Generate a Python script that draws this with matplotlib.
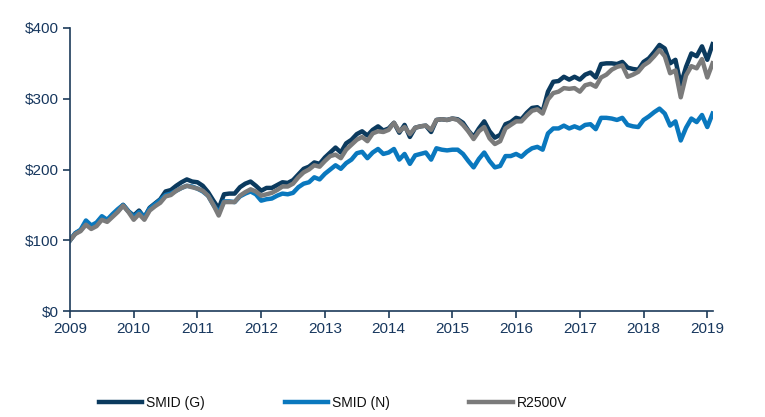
import numpy as np
import matplotlib
matplotlib.use('Agg')
import matplotlib.pyplot as plt
from matplotlib.ticker import FuncFormatter

plt.rcParams['font.family'] = ['Liberation Sans', 'DejaVu Sans']

# monthly growth of $100, Jan 2009 .. Feb 2019
smid_g = [100, 110, 114, 125, 119, 124, 132, 128, 135, 141, 150, 141,
          135, 142, 132, 146, 152, 158, 169, 171, 177, 182, 186, 183,
          182, 177, 168, 156, 145, 165, 166, 166, 175, 180, 183, 177,
          170, 174, 174, 178, 182, 181, 185, 193, 201, 204, 210, 208,
          217, 224, 231, 224, 237, 242, 250, 254, 248, 256, 261, 255,
          258, 266, 252, 263, 246, 259, 261, 262, 253, 270, 271, 270,
          272, 271, 266, 255, 246, 258, 268, 254, 245, 249, 264, 267,
          273, 271, 280, 287, 288, 282, 310, 324, 325, 331, 327, 331,
          327, 334, 337, 330, 349, 350, 350, 349, 352, 344, 342, 341,
          352, 357, 366, 376, 371, 350, 355, 320, 345, 364, 360, 374,
          355, 377]
smid_n = [100, 110, 115, 128, 121, 125, 134, 129, 137, 144, 150, 141,
          133, 140, 133, 145, 151, 157, 164, 166, 170, 174, 177, 176,
          173, 169, 163, 150, 139, 155, 155, 154, 162, 166, 169, 165,
          156, 158, 159, 163, 166, 165, 167, 175, 180, 182, 189, 186,
          194, 200, 206, 201, 209, 214, 223, 225, 216, 224, 229, 222,
          224, 229, 214, 222, 208, 220, 222, 224, 214, 230, 228, 227,
          228, 228, 222, 212, 203, 215, 224, 212, 203, 205, 219, 219,
          222, 218, 225, 230, 232, 228, 251, 258, 258, 262, 258, 261,
          258, 263, 264, 257, 273, 273, 272, 270, 273, 263, 261, 260,
          270, 275, 281, 286, 279, 262, 268, 241, 259, 272, 267, 277,
          260, 279]
r2500v = [100, 109, 113, 122, 116, 120, 129, 126, 133, 140, 149, 140,
          129, 137, 129, 142, 148, 153, 162, 164, 170, 174, 177, 175,
          173, 170, 163, 150, 135, 154, 154, 154, 163, 168, 172, 169,
          163, 165, 167, 171, 176, 176, 180, 189, 196, 200, 206, 204,
          212, 219, 221, 216, 228, 235, 242, 246, 240, 251, 254, 253,
          256, 266, 254, 260, 250, 259, 261, 262, 256, 270, 271, 270,
          272, 270, 263, 254, 243, 254, 260, 244, 236, 240, 258, 263,
          268, 268, 276, 283, 285, 279, 299, 308, 310, 315, 314, 315,
          310, 319, 321, 317, 330, 334, 341, 345, 347, 331, 334, 338,
          347, 352, 360, 369, 360, 336, 340, 302, 333, 346, 343, 356,
          330, 350]
years = np.arange(2009, 2020)
y_ticks = [0, 100, 200, 300, 400]

t = 2009 + np.arange(len(smid_g)) / 12.0

navy = '#0b3a5e'
blue = '#0a78be'
grey = '#7b7b7b'
axis_col = '#1c3b5a'

fig = plt.figure(figsize=(7.65, 4.17), dpi=100)
ax = fig.add_axes([0.0915, 0.254, 0.840, 0.679])

ax.plot(t, smid_g, color=navy, lw=3.2, label='SMID (G)')
ax.plot(t, smid_n, color=blue, lw=3.2, label='SMID (N)')
ax.plot(t, r2500v, color=grey, lw=3.2, label='R2500V')

ax.set_xlim(2009, t[-1])
ax.set_ylim(0, 400)
ax.set_xticks(years)
ax.set_yticks(y_ticks)
ax.yaxis.set_major_formatter(FuncFormatter(lambda v, p: '${:.0f}'.format(v)))

for s in ['top', 'right']:
    ax.spines[s].set_visible(False)
for s in ['left', 'bottom']:
    ax.spines[s].set_color(axis_col)
    ax.spines[s].set_linewidth(1.2)
ax.tick_params(colors=axis_col, labelcolor='#17375e', labelsize=11,
               length=5, width=1.2, direction='out', pad=3)

fig.legend(loc='center left', bbox_to_anchor=(0.129, 0.034), ncol=3,
           frameon=False, fontsize=10, handlelength=3.1, handletextpad=0.3,
           columnspacing=5.75, borderpad=0, borderaxespad=0,
           labelcolor='#111111')

fig.savefig('out.png', dpi=100)
